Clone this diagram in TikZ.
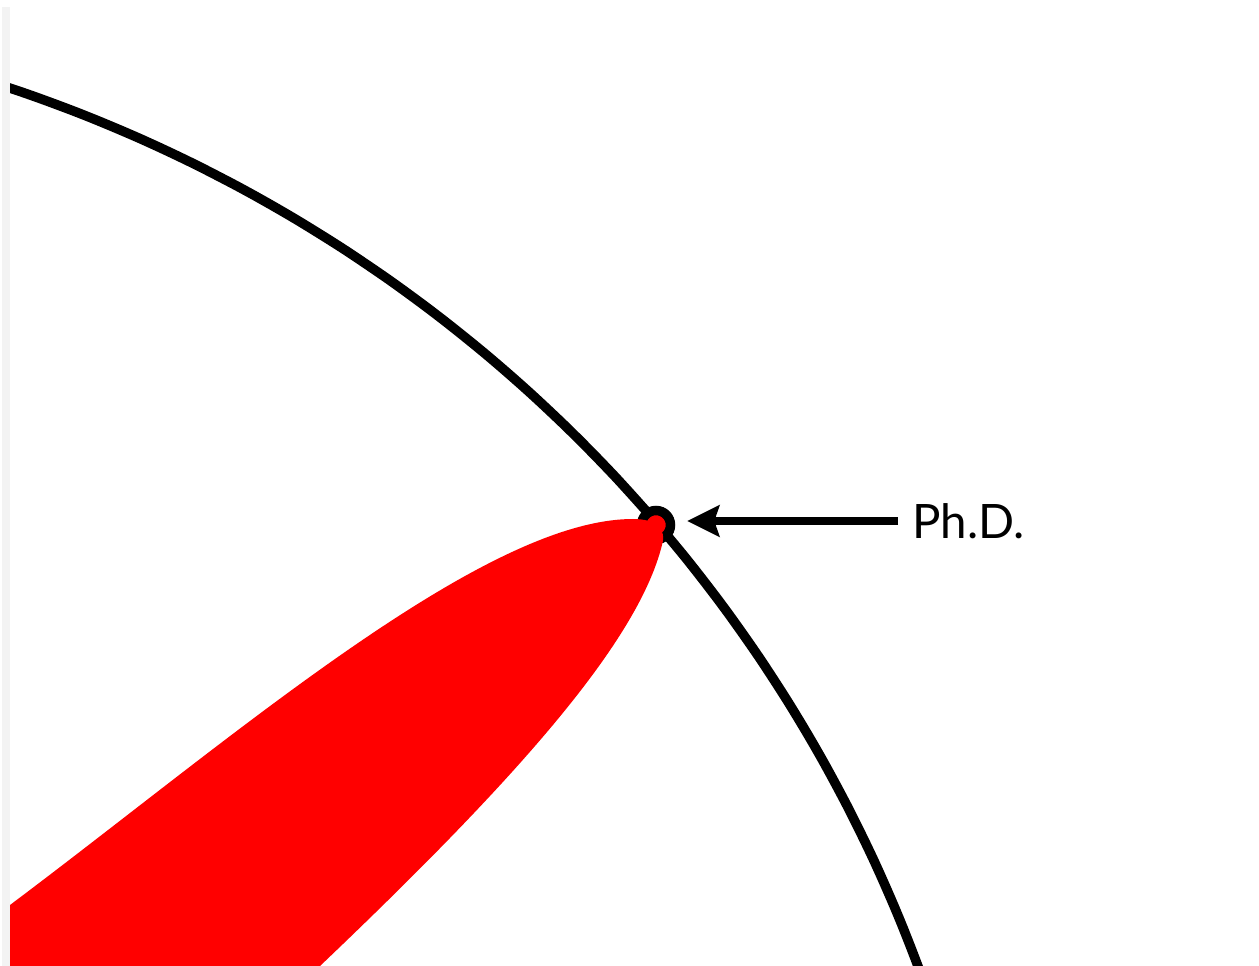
\documentclass[tikz,border=0pt]{standalone}
\usepackage{fontspec}
\setsansfont{Lato}
\usetikzlibrary{arrows.meta}
\definecolor{stripgray}{HTML}{F3F3F3}
\tikzset{
  bigline/.style={line width=0.19cm, black},
  blob/.style={fill=red, draw=none},
}
\begin{document}
\begin{tikzpicture}[x=0.02cm,y=-0.02cm]
  \useasboundingbox (0,0) rectangle (1259,966);
  \fill[white] (0,0) rectangle (1259,966);
  \fill[stripgray] (2,7) rectangle (10,966);
  \begin{scope}
    \clip (10,0) rectangle (1259,966);
    % the big arc
    \draw[bigline, smooth] plot[domain=18:73, samples=80]
      ({-454.6+1464.6*cos(\x)},{1477-1464.6*sin(\x)});
    % the ring on the arc
    \node[circle, draw, bigline, fill=red, inner sep=0, minimum size=0.58cm] (ring) at (656,525) {};
    % the red wedge
    \fill[blob] (0,912) -- (10,905)
      .. controls (230,740) and (483,519) .. (633,519)
      .. controls (655,519) and (667,528) .. (662,545)
      .. controls (637,645) and (509,786) .. (320,966)
      -- (300,990) -- (0,990) -- cycle;
  \end{scope}
  \node[anchor=west, inner sep=0, font=\sffamily\fontsize{27}{27}\selectfont] (label) at (912,521) {Ph.D.};
  \draw[line width=0.17cm, -{Stealth[length=0.64cm 0, width=0.62cm, inset=0.1cm]},
    shorten <=0.28cm, shorten >=0.24cm] (label.west) -- (label.west -| ring.east);
\end{tikzpicture}
\end{document}
